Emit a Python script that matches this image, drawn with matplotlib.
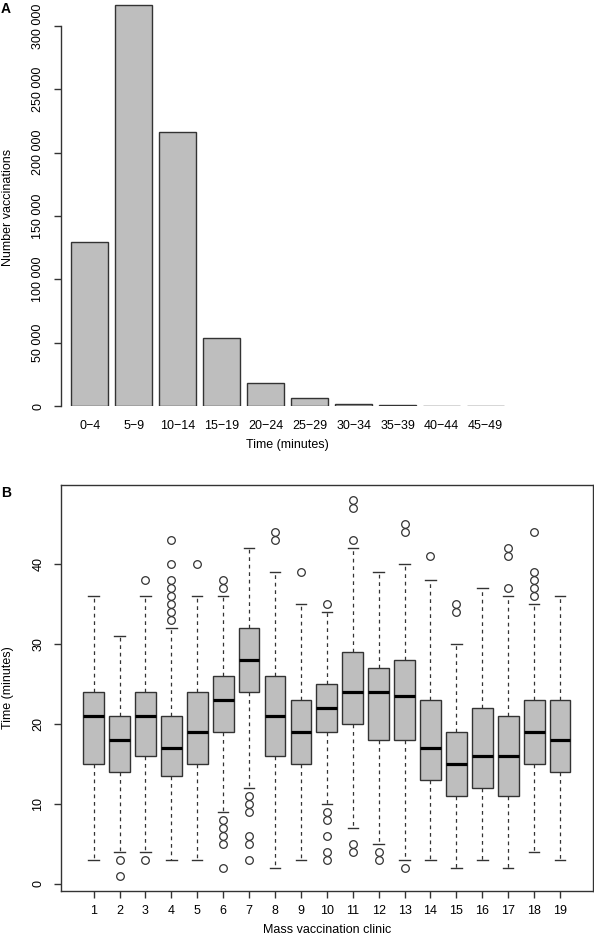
import matplotlib
matplotlib.use('Agg')
import matplotlib.pyplot as plt
import numpy as np

plt.rcParams['font.family'] = ['Liberation Sans', 'DejaVu Sans']

# ---------------- Data ----------------
# Panel A: distribution of vaccination times
time_bins = ["0\u22124", "5\u22129", "10\u221214", "15\u221219", "20\u221224",
             "25\u221229", "30\u221234", "35\u221239", "40\u221244", "45\u221249"]
counts = [129200, 316700, 216500, 53400, 17900, 6300, 1800, 600, 200, 100]
count_ticks = [0, 50000, 100000, 150000, 200000, 250000, 300000]
count_tick_labels = ["0", "50 000", "100 000", "150 000", "200 000", "250 000", "300 000"]

# Panel B: time per mass vaccination clinic
clinics = list(range(1, 20))
medians = [21, 18, 21, 17, 19, 23, 28, 21, 19, 22, 24, 24, 23.5, 17, 15, 16, 16, 19, 18]
q1s = [15, 14, 16, 13.5, 15, 19, 24, 16, 15, 19, 20, 18, 18, 13, 11, 12, 11, 15, 14]
q3s = [24, 21, 24, 21, 24, 26, 32, 26, 23, 25, 29, 27, 28, 23, 19, 22, 21, 23, 23]
whis_lo = [3, 4, 4, 3, 3, 9, 12, 2, 3, 10, 7, 5, 3, 3, 2, 3, 2, 4, 3]
whis_hi = [36, 31, 36, 32, 36, 36, 42, 39, 35, 34, 42, 39, 40, 38, 30, 37, 36, 35, 36]
outliers = [
    [],
    [3, 1],
    [38, 3],
    [33, 34, 35, 36, 37, 38, 40, 43],
    [40],
    [37, 38, 8, 7, 6, 5, 2],
    [11, 10, 9, 6, 5, 3],
    [43, 44],
    [39],
    [35, 9, 8, 6, 4, 3],
    [47, 48, 43, 5, 4],
    [4, 3],
    [44, 45, 2],
    [41],
    [34, 35],
    [],
    [41, 42, 37],
    [44, 39, 38, 37, 36],
    [],
]
time_ticks = [0, 10, 20, 30, 40]

# ---------------- Figure ----------------
W, H = 594, 940
DPI = 100
fig = plt.figure(figsize=(W / DPI, H / DPI), dpi=DPI)

def px_axes(l, t, r, b):
    return fig.add_axes([l / W, 1 - b / H, (r - l) / W, (b - t) / H])

EDGE = '#333333'
FILL = '#BEBEBE'
FS = 9
TICKLEN = 5.0

# ---------- Panel A ----------
axA = px_axes(61, 0, 530, 406)
xpos = np.arange(len(counts))
axA.bar(xpos, counts, width=1 / 1.2, color=FILL, edgecolor=EDGE, linewidth=1.0)
px_per_unit = 126.7 / 100000.0
axA.set_ylim(0, 406 / px_per_unit)
axA.set_xlim(-0.652, -0.652 + (530 - 61) / 44.0)
for s in ['top', 'right', 'bottom']:
    axA.spines[s].set_visible(False)
axA.spines['left'].set_bounds(0, 300000)
axA.spines['left'].set_color(EDGE)
axA.spines['left'].set_linewidth(1.0)
axA.set_yticks(count_ticks)
axA.set_yticklabels(count_tick_labels, rotation=90, va='center', fontsize=FS)
axA.tick_params(axis='y', direction='out', length=TICKLEN, width=1.0, color=EDGE, pad=7)
axA.set_xticks(xpos)
axA.set_xticklabels(time_bins, fontsize=FS)
axA.tick_params(axis='x', length=0, pad=10)

fig.text(287 / W, 1 - 445 / H, "Time (minutes)", ha='center', va='center', fontsize=FS)
fig.text(8 / W, 1 - 207 / H, "Number vaccinations", ha='center', va='center',
         rotation=90, fontsize=FS)
fig.text(6 / W, 1 - 9 / H, "A", ha='center', va='center', fontsize=FS + 1, fontweight='bold')

# ---------- Panel B ----------
axB = px_axes(61, 485, 592.7, 890.7)
stats = []
for i in range(len(clinics)):
    stats.append(dict(med=medians[i], q1=q1s[i], q3=q3s[i],
                      whislo=whis_lo[i], whishi=whis_hi[i], fliers=outliers[i]))
axB.bxp(stats, positions=clinics, widths=0.8, capwidths=0.4, patch_artist=True,
        boxprops=dict(facecolor=FILL, edgecolor=EDGE, linewidth=1.0),
        medianprops=dict(color='black', linewidth=2.3, solid_capstyle='butt'),
        whiskerprops=dict(color=EDGE, linewidth=0.9, linestyle=(0, (3.0, 3.0))),
        capprops=dict(color=EDGE, linewidth=1.0),
        flierprops=dict(marker='o', markerfacecolor='none', markeredgecolor=EDGE,
                        markersize=5.5, markeredgewidth=0.9, linestyle='none'))
axB.set_xlim(-0.26, 20.26)
axB.set_ylim(-0.88, 49.88)
for s in axB.spines.values():
    s.set_color(EDGE)
    s.set_linewidth(1.0)
axB.set_yticks(time_ticks)
axB.set_yticklabels([str(t) for t in time_ticks], rotation=90, va='center', fontsize=FS)
axB.set_xticks(clinics)
axB.set_xticklabels([str(c) for c in clinics], fontsize=FS)
axB.tick_params(axis='both', direction='out', length=TICKLEN, width=1.0, color=EDGE)
axB.tick_params(axis='y', pad=7)
axB.tick_params(axis='x', pad=5)

fig.text(327 / W, 1 - 930 / H, "Mass vaccination clinic", ha='center', va='center', fontsize=FS)
fig.text(8 / W, 1 - 688 / H, "Time (minutes)", ha='center', va='center',
         rotation=90, fontsize=FS)
fig.text(6 / W, 1 - 493 / H, "B", ha='center', va='center', fontsize=FS + 1, fontweight='bold')

fig.savefig('out.png', dpi=DPI)
